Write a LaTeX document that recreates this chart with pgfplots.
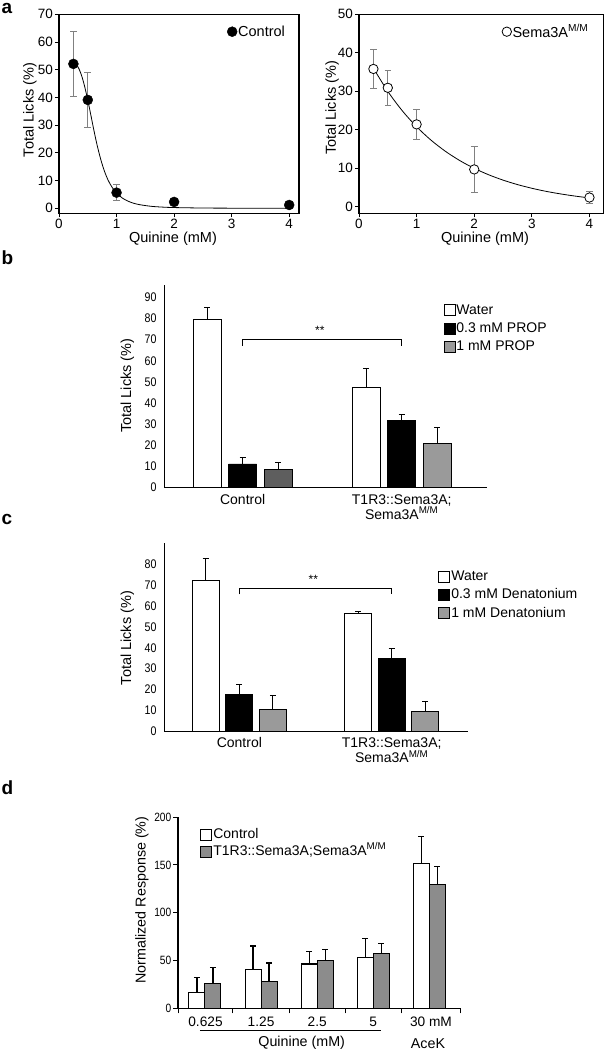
\documentclass[border=0pt]{standalone}
\usepackage{fontspec}
\setmainfont{Liberation Sans}
\newfontfamily\narrowfont[FakeStretch=0.85]{Liberation Sans}
\usepackage{pgfplots}
\pgfplotsset{compat=1.18}
\definecolor{errgray}{HTML}{808080}
\definecolor{bargray}{HTML}{9A9A9A}
\definecolor{darkbar}{HTML}{5E5E5E}
\definecolor{dgray}{HTML}{8C8C8C}
\newcommand\fsz[2]{\fontsize{#1pt}{#2pt}\selectfont}
\pgfplotsset{
  boxaxis/.style={scale only axis, clip=false, anchor=south west, width=240pt, height=199pt,
    tick align=outside, tick pos=left, major tick length=4pt,
    axis line style={line width=1.1pt}, every tick/.style={black,line width=0.9pt},
    tick label style={font=\fsz{13.5}{16}, inner sep=2pt}, label style={font=\fsz{14.5}{17}},
    /pgf/number format/assume math mode=true, xtick={0,1,2,3,4}, xmin=0,
    legend style={draw=none, fill=none, inner sep=0pt, font=\fsz{14.5}{17}, nodes={inner sep=1pt}},
    legend image code/.code={\draw[mark repeat=2,mark phase=2,##1] plot coordinates {(0pt,0pt) (5pt,0pt) (10pt,0pt)};},
  },
  baraxis/.style={scale only axis, clip=false, anchor=south west, axis lines=left,
    axis line style={-, line width=0.9pt}, major tick length=0pt, ymin=0,
    /pgf/number format/assume math mode=true,
    yticklabel style={font=\narrowfont\fsz{12.5}{14}, xshift=-4pt},
    xticklabel style={font=\fsz{14}{14}, align=center, yshift=-3pt},
    label style={font=\fsz{14.5}{17}},
    legend style={draw=none, fill=none, inner sep=0pt, anchor=north west, row sep=2.8pt,
      font=\fsz{14}{16}, nodes={inner sep=1pt, text height=10.5pt, text depth=3pt}},
    legend cell align=left,
    legend image code/.code={\draw[##1,/tikz/.cd, line width=0.9pt] (0pt,-5.5pt) rectangle (11pt,5.5pt);},
  },
  errb/.style={error bars/y dir=plus, error bars/y explicit,
    error bars/error bar style={black, line width=1pt},
    error bars/error mark options={rotate=90, black, mark size=3pt, line width=1pt}},
}
\begin{document}
\begin{tikzpicture}[x=1pt,y=1pt]
\useasboundingbox (0,0) rectangle (605,1050);
% panel letters
\node[anchor=base west, inner sep=0pt, font=\bfseries\fsz{19}{19}] at (1.5,1036.5) {a};
\node[anchor=base west, inner sep=0pt, font=\bfseries\fsz{19}{19}] at (1.5,785) {b};
\node[anchor=base west, inner sep=0pt, font=\bfseries\fsz{19}{19}] at (1.5,525) {c};
\node[anchor=base west, inner sep=0pt, font=\bfseries\fsz{19}{19}] at (1.5,255) {d};

% ---------- panel a, left ----------
\begin{axis}[boxaxis, at={(59pt,836.7pt)}, xmax=4.17, ymin=-1.8, ymax=70,
  ytick={0,10,...,70}, xlabel={Quinine (mM)}, ylabel={Total Licks (\%)},
  xlabel style={at={(axis description cs:0.475,-0.129)}, anchor=center},
  ylabel style={at={(axis description cs:-0.121,0.519)}, anchor=center},
  legend style={at={(axis description cs:0.700,0.9126)}, anchor=west}]
\addplot[black, line width=0.8pt, smooth, forget plot] coordinates {
(0.25,52.6) (0.3,52.0) (0.35,50.2) (0.4,47.4) (0.45,43.6) (0.5,39.0) (0.55,34.0)
(0.6,28.8) (0.65,23.9) (0.7,19.6) (0.75,15.9) (0.8,12.8) (0.85,10.3) (0.9,8.35)
(0.95,6.76) (1.0,5.5) (1.1,3.71) (1.2,2.56) (1.3,1.81) (1.4,1.31) (1.6,0.72)
(1.8,0.43) (2.0,0.27) (2.5,0.10) (3.0,0.05) (3.5,0.03) (4.0,0.02)};
\addplot[only marks, mark=*, mark size=5pt, black,
  error bars/y dir=both, error bars/y explicit,
  error bars/error bar style={errgray, line width=0.8pt},
  error bars/error mark options={rotate=90, errgray, mark size=3.3pt, line width=0.8pt}]
  coordinates {(0.25,52.1) +- (0,11.6) (0.5,39.1) +- (0,9.8) (1,5.65) +- (0,2.8)
  (2,2.3) +- (0,0) (4,1.2) +- (0,0)};
\addlegendentry{Control}
\end{axis}

% ---------- panel a, right ----------
\begin{axis}[boxaxis, at={(359pt,836.7pt)}, width=244.3pt, xmax=4.24, ymin=-1.7, ymax=50,
  ytick={0,10,...,50}, xlabel={Quinine (mM)}, ylabel={Total Licks (\%)},
  xlabel style={at={(axis description cs:0.516,-0.129)}, anchor=center},
  ylabel style={at={(axis description cs:-0.1105,0.53)}, anchor=center},
  legend style={at={(axis description cs:0.585,0.9126)}, anchor=west}]
\addplot[black, line width=0.8pt, smooth, forget plot] coordinates {
(0.25,36.0) (0.5,29.97) (0.75,24.96) (1.0,20.78) (1.25,17.30) (1.5,14.40) (1.75,11.99)
(2.0,9.98) (2.25,8.31) (2.5,6.92) (2.75,5.76) (3.0,4.80) (3.25,3.99) (3.5,3.33)
(3.75,2.77) (4.0,2.30)};
\addplot[only marks, mark=*, mark size=4.7pt, mark options={fill=white, draw=black, line width=0.8pt},
  error bars/y dir=both, error bars/y explicit,
  error bars/error bar style={errgray, line width=0.8pt},
  error bars/error mark options={rotate=90, errgray, mark size=3.3pt, line width=0.8pt}]
  coordinates {(0.25,35.8) +- (0,5.1) (0.5,30.9) +- (0,4.6) (1,21.4) +- (0,3.9)
  (2,9.7) +- (0,6.1) (4,2.4) +- (0,1.6)};
\addlegendentry{Sema3A\textsuperscript{M/M}}
\end{axis}

% ---------- panel b ----------
\begin{axis}[baraxis, at={(164.1pt,562.3pt)}, width=322.4pt, height=202.7pt,
  xmin=-0.494, xmax=1.533, ymax=95.8, ytick={0,10,...,90},
  xtick={0,1}, xticklabels={Control, {T1R3::Sema3A;\\Sema3A\textsuperscript{M/M}}},
  ylabel={Total Licks (\%)},
  ylabel style={at={(axis description cs:-0.114,0.503)}, anchor=center},
  legend style={at={(axis description cs:0.866,0.914)}}]
\addplot[ybar, bar width=28pt, bar shift=0pt, fill=white, draw=black, line width=0.9pt, errb]
  coordinates {(-0.2226,79.6) +- (0,5.5) (0.7774,47.4) +- (0,9.0)};
\addlegendentry{Water}
\addplot[ybar, bar width=28pt, bar shift=0pt, fill=black, draw=black, line width=0.9pt, errb]
  coordinates {(0,11.2) +- (0,3.0) (1,31.7) +- (0,2.8)};
\addlegendentry{0.3 mM PROP}
\addplot[ybar, bar width=28pt, bar shift=0pt, fill=darkbar, draw=black, line width=0.9pt, forget plot, errb]
  coordinates {(0.2226,8.8) +- (0,3.3)};
\addplot[ybar, bar width=28pt, bar shift=0pt, fill=bargray, draw=black, line width=0.9pt, errb]
  coordinates {(1.2226,20.8) +- (0,7.6)};
\addlegendentry{1 mM PROP}
\draw[line width=0.9pt] (axis cs:0,67.0) -- (axis cs:0,70.2) -- (axis cs:1,70.2) -- (axis cs:1,67.0);
\node[font=\fsz{12}{12}, inner sep=0pt] at (axis cs:0.485,74.3) {**};
\end{axis}

% ---------- panel c ----------
\begin{axis}[baraxis, at={(164.1pt,319pt)}, width=303.9pt, height=187.7pt,
  xmin=-0.494, xmax=1.501, ymax=90.2, ytick={0,10,...,80},
  xtick={0,1}, xticklabels={Control, {T1R3::Sema3A;\\Sema3A\textsuperscript{M/M}}},
  ylabel={Total Licks (\%)},
  ylabel style={at={(axis description cs:-0.121,0.495)}, anchor=center},
  legend style={at={(axis description cs:0.902,0.864)}}]
\addplot[ybar, bar width=27pt, bar shift=0pt, fill=white, draw=black, line width=0.9pt, errb]
  coordinates {(-0.2206,72.5) +- (0,10.3) (0.7794,56.4) +- (0,0.8)};
\addlegendentry{Water}
\addplot[ybar, bar width=27pt, bar shift=0pt, fill=black, draw=black, line width=0.9pt, errb]
  coordinates {(0,17.6) +- (0,4.8) (1,35.0) +- (0,4.8)};
\addlegendentry{0.3 mM Denatonium}
\addplot[ybar, bar width=27pt, bar shift=0pt, fill=bargray, draw=black, line width=0.9pt, errb]
  coordinates {(0.2206,10.4) +- (0,6.8) (1.2206,9.3) +- (0,4.8)};
\addlegendentry{1 mM Denatonium}
\draw[line width=0.9pt] (axis cs:0,65.7) -- (axis cs:0,68.6) -- (axis cs:1,68.6) -- (axis cs:1,65.7);
\node[font=\fsz{12}{12}, inner sep=0pt] at (axis cs:0.486,73.0) {**};
\end{axis}

% ---------- panel d ----------
\begin{axis}[scale only axis, clip=false, anchor=south west, at={(178pt,41.7pt)},
  width=282.6pt, height=191.2pt, xmin=0.52, xmax=5.556, ymin=0, ymax=200,
  axis lines=left, axis line style={-, line width=1.1pt},
  ytick={0,50,...,200}, xtick={0.52,1.5,2.5,3.5,4.5,5.556}, x tick label as interval,
  xticklabels={0.625,1.25,2.5,5,30 mM},
  tick align=outside, major tick length=5pt, every tick/.style={black, line width=1pt},
  /pgf/number format/assume math mode=true,
  yticklabel style={font=\narrowfont\fsz{12}{14}, inner sep=1.5pt},
  xticklabel style={font=\fsz{13.7}{16}},
  ylabel={Normalized Response (\%)}, label style={font=\fsz{14.3}{17}},
  ylabel style={at={(axis description cs:-0.128,0.566)}, anchor=center},
  legend style={draw=none, fill=none, inner sep=0pt, anchor=north west, row sep=1.7pt,
    at={(axis description cs:0.078,0.947)},
    font=\fsz{14}{16}, nodes={inner sep=1pt, text height=10pt, text depth=3pt}},
  legend cell align=left,
  legend image code/.code={\draw[#1,/tikz/.cd, line width=1.1pt] (0pt,-5.5pt) rectangle (11pt,5.5pt);}]
\addplot[ybar, bar width=16pt, bar shift=0pt, fill=white, draw=black, line width=1.1pt,
  error bars/y dir=plus, error bars/y explicit,
  error bars/error bar style={black, line width=1.2pt},
  error bars/error mark options={rotate=90, black, mark size=3pt, line width=1.2pt}]
  coordinates {(0.8574,16.3) +- (0,16.1) (1.8574,40.4) +- (0,24.8) (2.8574,46.3) +- (0,13.3)
  (3.8574,52.9) +- (0,19.9) (4.8574,151.8) +- (0,27.8)};
\addlegendentry{Control}
\addplot[ybar, bar width=16pt, bar shift=0pt, fill=dgray, draw=black, line width=1.1pt,
  error bars/y dir=plus, error bars/y explicit,
  error bars/error bar style={black, line width=1.2pt},
  error bars/error mark options={rotate=90, black, mark size=3pt, line width=1.2pt}]
  coordinates {(1.1426,25.7) +- (0,16.8) (2.1426,28.2) +- (0,19.2) (3.1426,49.8) +- (0,11.9)
  (4.1426,57.5) +- (0,10.1) (5.1426,129.6) +- (0,18.8)};
\addlegendentry{T1R3::Sema3A;Sema3A\textsuperscript{M/M}}
\draw[line width=1pt] (axis cs:0.911,-22.7) -- (axis cs:4.132,-22.7);
\node[font=\fsz{14.3}{17}, inner sep=0pt] at (axis cs:2.724,-36.6) {Quinine (mM)};
\node[font=\fsz{14.3}{17}, inner sep=0pt] at (axis cs:4.975,-36.6) {AceK};
\end{axis}
\end{tikzpicture}
\end{document}
